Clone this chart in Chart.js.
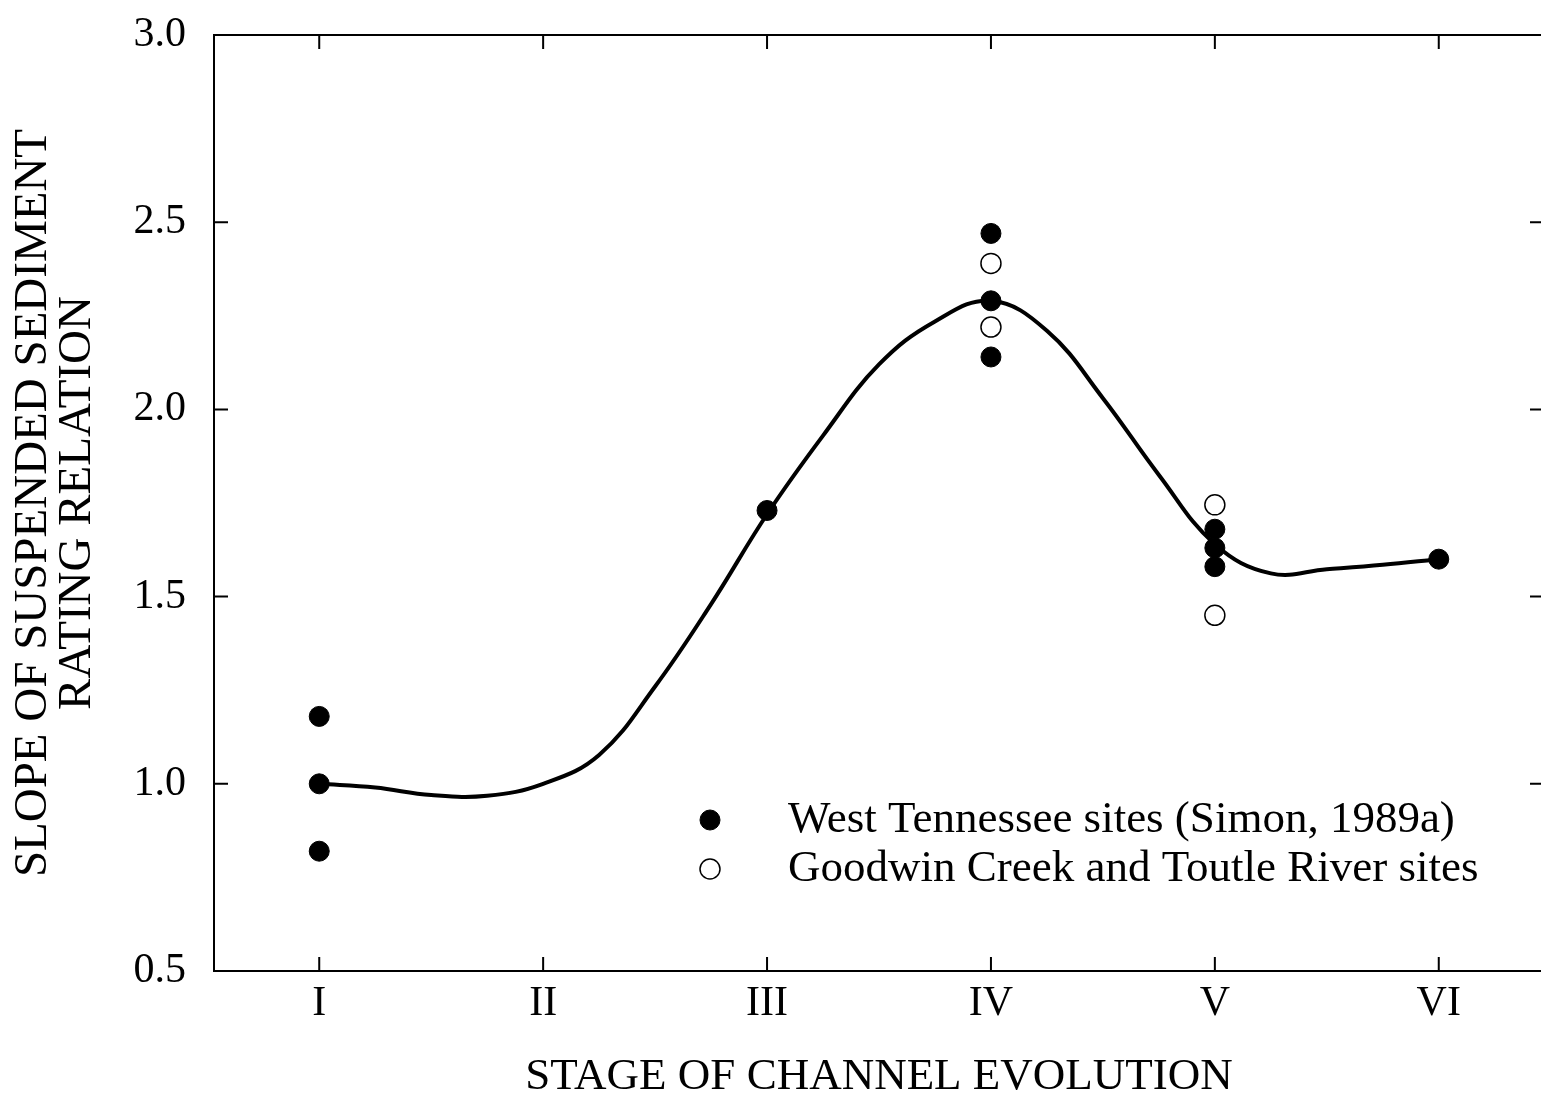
<!DOCTYPE html>
<html>
<head>
<meta charset="utf-8">
<title>Slope of suspended sediment rating relation</title>
<script src="https://cdn.jsdelivr.net/npm/chart.js@4.4.1/dist/chart.umd.min.js"></script>
<style>
  html, body { margin: 0; padding: 0; background: #fff; overflow: hidden; }
  #wrap { width: 1560px; height: 1102px; position: relative; }
</style>
</head>
<body>
<div id="wrap"><canvas id="slopeChart"></canvas></div>
<script>
// stages of channel evolution (x axis)
const stageLabels = ['I', 'II', 'III', 'IV', 'V', 'VI'];
const stageValues = [1, 2, 3, 4, 5, 6];
const slopeTicks = [0.5, 1.0, 1.5, 2.0, 2.5, 3.0];

// West Tennessee sites (Simon, 1989a)
const westStage = [1, 1, 1, 3, 4, 4, 4, 5, 5, 5, 6];
const westSlope = [1.18, 1.00, 0.82, 1.73, 2.47, 2.29, 2.14, 1.68, 1.63, 1.58, 1.60];

// Goodwin Creek and Toutle River sites
const goodwinStage = [4, 4, 5, 5];
const goodwinSlope = [2.39, 2.22, 1.745, 1.45];

// fitted curve through the stages
const curveStage = [1.0, 1.25, 1.5, 1.75, 2.0, 2.25, 2.5, 2.75, 3.0, 3.25, 3.5, 3.75, 4.0, 4.25, 4.5, 4.75, 5.0, 5.25, 5.5, 5.75, 6.0];
const curveSlope = [1.00, 0.99, 0.97, 0.968, 1.00, 1.077, 1.26, 1.48, 1.72, 1.93, 2.12, 2.235, 2.29, 2.21, 2.03, 1.825, 1.64, 1.562, 1.573, 1.585, 1.60];

const serif = '"Liberation Serif", "Times New Roman", serif';

const toPoints = (xs, ys) => xs.map((x, i) => ({ x: x, y: ys[i] }));

// box around the plot with inward tick marks on all four sides
const frameTicks = {
    id: 'frameTicks',
    beforeDatasetsDraw(chart) {
        const { ctx, chartArea: a, scales } = chart;
        const len = 14;
        ctx.save();
        ctx.strokeStyle = '#000';
        ctx.lineWidth = 2;
        ctx.strokeRect(a.left, a.top, a.right - a.left, a.bottom - a.top);
        ctx.beginPath();
        stageValues.forEach(v => {
            const px = scales.x.getPixelForValue(v);
            ctx.moveTo(px, a.top); ctx.lineTo(px, a.top + len);
            ctx.moveTo(px, a.bottom); ctx.lineTo(px, a.bottom - len);
        });
        slopeTicks.forEach(v => {
            const py = scales.y.getPixelForValue(v);
            ctx.moveTo(a.left, py); ctx.lineTo(a.left + len, py);
            ctx.moveTo(a.right, py); ctx.lineTo(a.right - len, py);
        });
        ctx.stroke();
        ctx.restore();
    }
};

// legend sitting inside the plot, lower right
const insideLegend = {
    id: 'insideLegend',
    afterDraw(chart) {
        const { ctx } = chart;
        const rows = [
            { ds: chart.data.datasets[0], y: 820 },
            { ds: chart.data.datasets[1], y: 869 }
        ];
        ctx.save();
        ctx.font = '45px ' + serif;
        ctx.textBaseline = 'middle';
        rows.forEach(r => {
            ctx.beginPath();
            ctx.arc(710, r.y, r.ds.pointRadius, 0, Math.PI * 2);
            ctx.fillStyle = r.ds.pointBackgroundColor;
            ctx.fill();
            ctx.lineWidth = r.ds.pointBorderWidth;
            ctx.strokeStyle = '#000';
            ctx.stroke();
            ctx.fillStyle = '#000';
            ctx.fillText(r.ds.label, 788, r.y);
        });
        ctx.restore();
    }
};

new Chart(document.getElementById('slopeChart'), {
    type: 'scatter',
    data: {
        datasets: [
            {
                label: 'West Tennessee sites (Simon, 1989a)',
                data: toPoints(westStage, westSlope),
                pointRadius: 10,
                pointBackgroundColor: '#000',
                pointBorderColor: '#000',
                pointBorderWidth: 1,
                showLine: false
            },
            {
                label: 'Goodwin Creek and Toutle River sites',
                data: toPoints(goodwinStage, goodwinSlope),
                pointRadius: 10,
                pointBackgroundColor: '#fff',
                pointBorderColor: '#000',
                pointBorderWidth: 1.5,
                showLine: false
            },
            {
                label: 'curve',
                data: toPoints(curveStage, curveSlope),
                showLine: true,
                pointRadius: 0,
                borderColor: '#000',
                borderWidth: 4,
                tension: 0.4
            }
        ]
    },
    options: {
        responsive: true,
        maintainAspectRatio: false,
        animation: false,
        layout: { padding: { top: 35, right: 16, left: 0, bottom: 0 } },
        plugins: {
            legend: { display: false },
            tooltip: { enabled: false }
        },
        scales: {
            x: {
                type: 'linear',
                min: 0.53,
                max: 6.47,
                afterFit: s => { s.height = 131; },
                afterBuildTicks: s => { s.ticks = stageValues.map(v => ({ value: v })); },
                grid: { display: false },
                border: { display: false },
                ticks: {
                    color: '#000',
                    padding: 0,
                    font: { family: serif, size: 42 },
                    callback: v => stageLabels[stageValues.indexOf(v)] || ''
                },
                title: {
                    display: true,
                    text: 'STAGE OF CHANNEL EVOLUTION',
                    color: '#000',
                    font: { family: serif, size: 45, lineHeight: 1.0 },
                    padding: { top: 0, bottom: 2 }
                }
            },
            y: {
                type: 'linear',
                min: 0.5,
                max: 3.0,
                afterFit: s => { s.width = 214; s.paddingTop = 0; s.paddingBottom = 0; },
                afterBuildTicks: s => { s.ticks = slopeTicks.map(v => ({ value: v })); },
                grid: { display: false },
                border: { display: false },
                ticks: {
                    color: '#000',
                    padding: 20,
                    font: { family: serif, size: 42, lineHeight: 0.6 },
                    callback: v => v.toFixed(1)
                },
                title: {
                    display: true,
                    text: ['SLOPE OF SUSPENDED SEDIMENT', 'RATING RELATION'],
                    color: '#000',
                    font: { family: serif, size: 47, lineHeight: 0.93 },
                    padding: { top: 12, bottom: 0 }
                }
            }
        }
    },
    plugins: [frameTicks, insideLegend]
});
</script>
</body>
</html>
